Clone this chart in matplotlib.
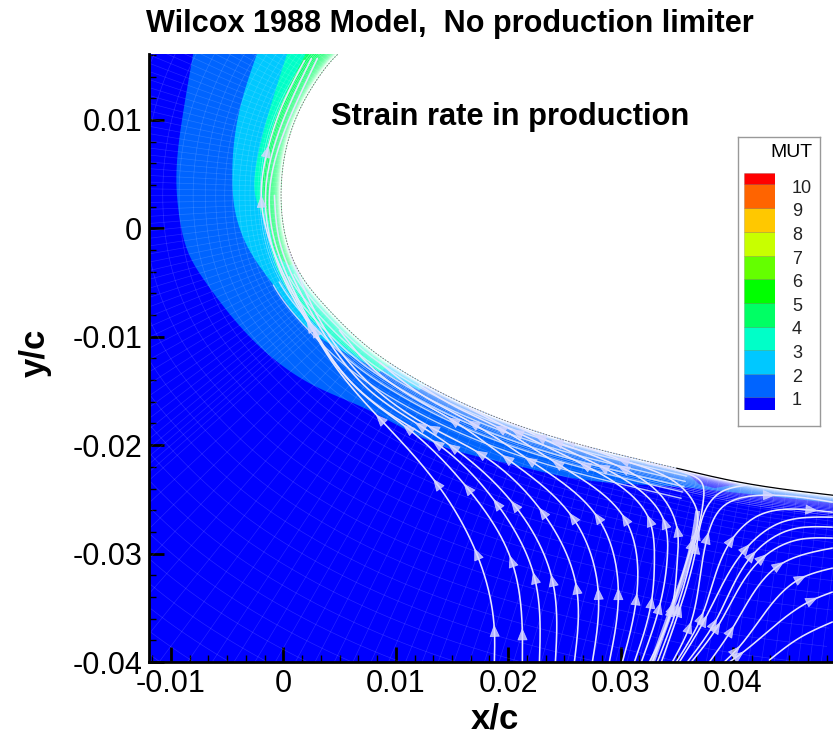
import numpy as np
import matplotlib
matplotlib.use('Agg')
import matplotlib.pyplot as plt
from matplotlib.ticker import MultipleLocator

plt.rcParams['font.family'] = ['Liberation Sans', 'DejaVu Sans']

wall_x = [5.2, 4.72, 2.94, 1.42, 0.27, -0.18, -0.18, 0.27, 1.69, 3.83, 7.65, 11.21, 15.39, 26.6, 34.96, 40.57, 48.84, 50]
wall_y = [16.4, 15.94, 13.64, 10.88, 7.47, 4.15, 1.94, -1.11, -4.52, -7.28, -11.06, -13.55, -15.85, -20.0, -22.12, -23.41, -24.61, -24.75]

band2_x = [-8.01, -8.99, -9.52, -9.25, -8.36, -6.85, -1.96, 2.49, 7.21, 13.88, 19.84, 25.71, 36.39, 38.17, 48.84, 50]
band2_y = [16.22, 10.23, 4.15, 1.01, -2.49, -5.07, -11.06, -14.38, -16.59, -20.0, -21.66, -23.04, -23.96, -24.15, -25.35, -25.5]
band3_x = [-2.31, -3.91, -4.54, -4.36, -3.02, -0.36, 1.42, 5.6, 12.1]
band3_y = [16.22, 10.88, 4.15, 1.94, -2.03, -5.99, -8.48, -11.52, -14.93]
band4_x = [0.36, -1.25, -2.4, -2.4, -1.69, -1.07, -0.09, 1.16, 4.09, 8.54]
band4_y = [16.22, 10.88, 5.99, 2.58, 0.74, -2.03, -4.79, -6.91, -9.86, -13.27]
band5_x = [2.05, -0.53, -1.78, -1.78, -1.25, -0.36, 0.53]
band5_y = [16.22, 10.6, 5.35, 2.58, 0.46, -2.67, -3.41]
wedge_x = [35.5, 41.0, 38.35, 37.0]
wedge_y = [-22.21, -23.5, -23.96, -23.6]

# the bright bundle of lines that run together
trunk_x = [32.83, 34.61, 36.39, 36.83]
trunk_y = [-40, -34.93, -29.03, -26.27]

# streamlines: x, y, nodes that carry an arrow
streamlines = [
    ([18.77, 18.77, 18.06, 17.17, 13.61, 8.54, 4.54, 1.42, -1.07, -1.96, -1.42, 0.09, 1.87],
     [-40, -37.05, -32.63, -29.95, -23.5, -17.51, -12.63, -7.1, -1.57, 2.58, 7.19, 11.8, 15.48], [1, 3, 4, 5, 9, 10]),
    ([21.26, 21.26, 20.28, 16.37, 11.03, 8.27, 5.43, 2.31, 0.09, -1.25, -1.6, -0.8, 0.71, 2.49],
     [-40, -37.33, -30.6, -23.96, -18.43, -16.31, -13.55, -8.94, -4.79, -0.65, 3.04, 7.65, 11.8, 15.67], [1, 2, 3, 4, 7]),
    ([22.78, 22.33, 18.95, 13.61, 10.05, 5.87, 2.76, 0.71, -0.8, -1.25, -0.36, 1.25, 3.02],
     [-40, -32.17, -25.35, -19.82, -17.51, -14.01, -9.4, -5.25, -1.11, 3.04, 7.65, 11.8, 15.67], [1, 2, 3, 6]),
    ([24.2, 23.93, 20.55, 15.04, 12.1, 7.65, 4.09, 1.42, -0.36, -0.8],
     [-40, -32.44, -25.53, -20.18, -18.16, -14.93, -10.51, -5.71, -1.11, 3.04], [1, 2, 3, 4]),
    ([25.89, 26.07, 23.04, 17.44, 13.26, 8.1, 4.98, 2.31, 0.36],
     [-40, -33.09, -26.18, -20.74, -18.43, -14.75, -11.24, -6.64, -1.57], [1, 2, 3, 4]),
    ([27.49, 28.02, 25.71, 19.84, 15.04, 11.21, 7.65, 4.98],
     [-40, -33.64, -26.64, -21.2, -17.7, -15.39, -12.63, -9.4], [1, 2, 3, 4]),
    ([29.0, 29.8, 27.94, 21.89, 16.81, 12.1, 8.54],
     [-40, -33.64, -26.64, -21.38, -17.97, -15.21, -12.35], [1, 2, 3, 4]),
    ([30.16, 31.41, 30.34, 24.29, 19.22, 15.39, 12.1],
     [-40, -34.1, -26.73, -21.66, -18.43, -16.5, -14.47], [1, 2, 3, 4]),
    ([31.23, 32.74, 33.01, 32.56, 26.78, 20.73, 16.55],
     [-40, -34.47, -30.6, -26.91, -21.84, -18.8, -16.59], [1, 3, 4, 5]),
    ([31.85, 33.45, 34.16, 33.9, 28.38, 22.78, 18.33],
     [-40, -34.93, -30.32, -27.1, -22.03, -19.26, -16.96], [1, 3, 4, 5]),
    ([32.56, 34.52, 35.05, 35.05, 33.72, 30.16, 24.29],
     [-40, -35.21, -30.6, -27.83, -24.79, -22.12, -19.72], [1, 3, 5, 6]),
    ([32.83, 34.61, 36.39, 36.83, 35.94, 34.61, 30.16, 25.44],
     [-40, -34.93, -29.03, -26.27, -24.42, -23.23, -21.38, -19.54], [1, 2, 6, 7]),
    ([33.27, 35.05, 36.83, 37.37, 37.19, 35.85, 32.3],
     [-40, -34.93, -28.11, -25.07, -23.41, -22.58, -21.66], [1, 2]),
    ([33.63, 35.23, 36.74, 37.9, 38.79, 41.19],
     [-40, -35.21, -29.4, -25.35, -24.42, -23.69], [1, 2]),
    ([34.61, 36.12, 37.72, 39.06, 43.24, 48.84],
     [-40, -36.77, -28.48, -25.71, -24.61, -25.25], [1, 2, 4]),
    ([34.96, 37.19, 39.86, 42.35, 47.06, 48.84],
     [-40, -35.85, -28.76, -26.45, -25.99, -26.18], [1, 2, 4]),
    ([35.23, 37.46, 41.19, 44.13, 48.84],
     [-40, -36.13, -29.49, -27.19, -26.64], [1, 2]),
    ([35.94, 38.35, 41.73, 45.02, 48.84],
     [-40, -36.41, -30.14, -27.83, -27.56], [1, 2]),
    ([36.3, 38.61, 42.62, 45.64, 48.84],
     [-40, -36.77, -30.41, -28.76, -28.57], [1, 2]),
    ([37.9, 39.86, 44.13, 48.84],
     [-40, -37.05, -31.06, -29.49], [1, 2]),
    ([39.23, 40.3, 46.09, 48.84],
     [-40, -38.9, -32.26, -31.34], [1, 2]),
    ([39.68, 40.57, 47.06, 48.84],
     [-40, -39.35, -34.29, -33.55], [1, 2]),
    ([43.24, 45.9, 48.84],
     [-39.82, -37.79, -36.31], []),
]

levels = [1, 2, 3, 4, 5, 6, 7, 8, 9, 10]
level_edges = [0.61, 1.15, 2.15, 3.15, 4.12, 5.13, 6.16, 7.15, 8.17, 9.16, 10.18, 10.65]
level_colors = ['#0000ff', '#0064ff', '#00c8ff', '#00ffc8', '#00ff64', '#00ff00',
                '#64ff00', '#c8ff00', '#ffc800', '#ff6400', '#ff0000']
x_ticks = [-0.01, 0, 0.01, 0.02, 0.03, 0.04]
x_tick_labels = ['-0.01', '0', '0.01', '0.02', '0.03', '0.04']
y_ticks = [0.01, 0, -0.01, -0.02, -0.03, -0.04]
y_tick_labels = ['0.01', '0', '-0.01', '-0.02', '-0.03', '-0.04']


def smooth(x, y, step=0.08):
    # natural cubic spline through the read points, parameter = chord length
    x, y = np.asarray(x, float), np.asarray(y, float)
    h = np.hypot(np.diff(x), np.diff(y))
    s = np.r_[0, np.cumsum(h)]
    u = np.arange(0, s[-1], step)
    u = np.r_[u, s[-1]]
    n = len(x)
    A = np.zeros((n, n))
    A[0, 0] = A[-1, -1] = 1
    for i in range(1, n - 1):
        A[i, i - 1], A[i, i], A[i, i + 1] = h[i - 1], 2 * (h[i - 1] + h[i]), h[i]
    out = []
    k = np.clip(np.searchsorted(s, u, side='right') - 1, 0, n - 2)
    for v in (x, y):
        rhs = np.zeros(n)
        rhs[1:-1] = 6 * (np.diff(v)[1:] / h[1:] - np.diff(v)[:-1] / h[:-1])
        m = np.linalg.solve(A, rhs)
        a, b = s[k + 1] - u, u - s[k]
        out.append((m[k] * a**3 / 6 + m[k + 1] * b**3 / 6) / h[k]
                   + (v[k] / h[k] - m[k] * h[k] / 6) * a + (v[k + 1] / h[k] - m[k + 1] * h[k] / 6) * b)
    return out[0] * 1e-3, out[1] * 1e-3


fig = plt.figure(figsize=(8.33, 7.38), dpi=100)
ax = fig.add_axes([149 / 833, 1 - 662 / 738, 684 / 833, 608 / 738])
ax.set_facecolor(level_colors[0])

# contour bands, closed through the top right corner and hidden by the body
for bx, by, col in [(band2_x, band2_y, level_colors[1]), (band3_x, band3_y, level_colors[2]),
                    (band4_x, band4_y, level_colors[3]), (band5_x, band5_y, level_colors[4])]:
    sx, sy = smooth(bx, by)
    ax.fill(np.r_[sx, 0.05], np.r_[sy, 0.0165], color=col, lw=0, zorder=1)
ax.fill(np.array(wedge_x) * 1e-3, np.array(wedge_y) * 1e-3, color=level_colors[0], lw=0, zorder=1.5)

# mesh: rays off the wall and curves offset from it
wx, wy = smooth(wall_x, wall_y, step=0.04)
dx, dy = np.gradient(wx), np.gradient(wy)
ds = np.hypot(dx, dy)
nx, ny = dy / ds, -dx / ds
i = 0
while i < len(wx):
    ray = np.linspace(0, 0.035 if wx[i] > 0.006 else 0.03, 2)
    ax.plot(wx[i] + ray * nx[i], wy[i] + ray * ny[i], color='white', lw=0.5, alpha=0.14, zorder=2)
    spacing = 0.0004 if wy[i] > -0.008 else 0.001
    i += max(1, int(spacing / 4e-5))
d = 0.00005
while d < 0.06:
    ax.plot(wx + d * nx, wy + d * ny, color='white', lw=0.5, alpha=0.45 if d < 0.002 else 0.15, zorder=2)
    d += min((0.1 if d < 0.002 else 0.16) * d, 0.0017)

# near wall streamlines on the lower surface
keep = (wy < -0.004) & (wx < 0.036)
for d in [0.0005, 0.001, 0.0015, 0.002, 0.0026]:
    ax.plot((wx + d * nx)[keep], (wy + d * ny)[keep], color='#e8eeff', lw=1.0, alpha=0.8, zorder=3)

sx, sy = smooth(trunk_x, trunk_y)
ax.plot(sx, sy, color='#f0f0ff', lw=3.5, alpha=0.75, zorder=3)

for sl_x, sl_y, arrows in streamlines:
    sx, sy = smooth(sl_x, sl_y)
    ax.plot(sx, sy, color='#e6e6ff', lw=1.15, zorder=3, solid_capstyle='round')
    for k in arrows:
        j = np.argmin(np.hypot(sx - sl_x[k] * 1e-3, sy - sl_y[k] * 1e-3))
        j2 = min(j + 6, len(sx) - 1)
        j1 = max(j - 6, 0)
        t = np.array([sx[j2] - sx[j1], sy[j2] - sy[j1]])
        t = t / np.hypot(*t)
        on = np.array([sx[j], sy[j]])
        ax.annotate('', xy=on + t * 0.0005, xytext=on - t * 0.0005, zorder=4, annotation_clip=True,
                    arrowprops=dict(arrowstyle='-|>,head_length=0.6,head_width=0.25', color='#d8d8ff',
                                    lw=0.6, alpha=0.8, mutation_scale=13, shrinkA=0, shrinkB=0))

# body
ax.fill(np.r_[wx, 0.05], np.r_[wy, 0.0165], color='white', lw=0, zorder=5)
upper = wx < 0.035
ax.plot(wx[upper], wy[upper], color='#777777', lw=0.7, ls=(0, (1.5, 1.5)), zorder=6)
ax.plot(wx[~upper], wy[~upper], color='black', lw=0.9, zorder=6)

ax.set_xlim(-0.01196, 0.0489)
ax.set_ylim(-0.04, 0.01608)
ax.spines['top'].set_visible(False)
ax.spines['right'].set_visible(False)
ax.spines['left'].set_linewidth(2)
ax.spines['bottom'].set_linewidth(2)
for s in ['left', 'bottom']:
    ax.spines[s].set_zorder(10)
ax.set_xticks(x_ticks)
ax.set_xticklabels(x_tick_labels)
ax.set_yticks(y_ticks)
ax.set_yticklabels(y_tick_labels)
ax.xaxis.set_minor_locator(MultipleLocator(0.01 / 6))
ax.yaxis.set_minor_locator(MultipleLocator(0.002))
ax.tick_params(which='major', direction='in', length=11, width=2, labelsize=22, pad=5, zorder=10)
ax.tick_params(which='minor', direction='in', length=5, width=1, zorder=10)
ax.set_xlabel('x/c', fontsize=25, fontweight='bold')
ax.xaxis.set_label_coords((495 - 149) / 684, -(719 - 662) / 608, transform=ax.transAxes)
ax.xaxis.label.set_verticalalignment('center')
ax.set_ylabel('y/c', fontsize=25, fontweight='bold')
ax.yaxis.set_label_coords((35 - 149) / 684, (662 - 353) / 608, transform=ax.transAxes)
ax.yaxis.label.set_verticalalignment('center')

fig.text(450 / 833, 1 - 24 / 738, 'Wilcox 1988 Model,  No production limiter', fontsize=22.1,
         fontweight='bold', ha='center', va='center')
fig.text(510 / 833, 1 - 117 / 738, 'Strain rate in production', fontsize=22.2,
         fontweight='bold', ha='center', va='center', zorder=20)

# contour legend
box = fig.add_axes([738 / 833, 1 - 426 / 738, 82 / 833, 289 / 738], zorder=20)
box.set_xticks([])
box.set_yticks([])
for s in box.spines.values():
    s.set_color('#999999')
    s.set_linewidth(1)
box.text(0.91, 0.945, 'MUT', fontsize=14, ha='right', va='center', transform=box.transAxes)
leg = fig.add_axes([744 / 833, 1 - 410 / 738, 31 / 833, 237 / 738], zorder=21)
leg.bar(0, np.diff(level_edges), bottom=level_edges[:-1], width=1, color=level_colors, align='edge',
        edgecolor='#00000033', linewidth=0.5)
leg.set_xlim(0, 1)
leg.set_ylim(level_edges[0], level_edges[-1])
leg.axis('off')
for lev in levels:
    leg.text(1.55, lev, str(lev), fontsize=13, ha='left', va='center', color='#222222')

fig.savefig('out.png', dpi=100)
